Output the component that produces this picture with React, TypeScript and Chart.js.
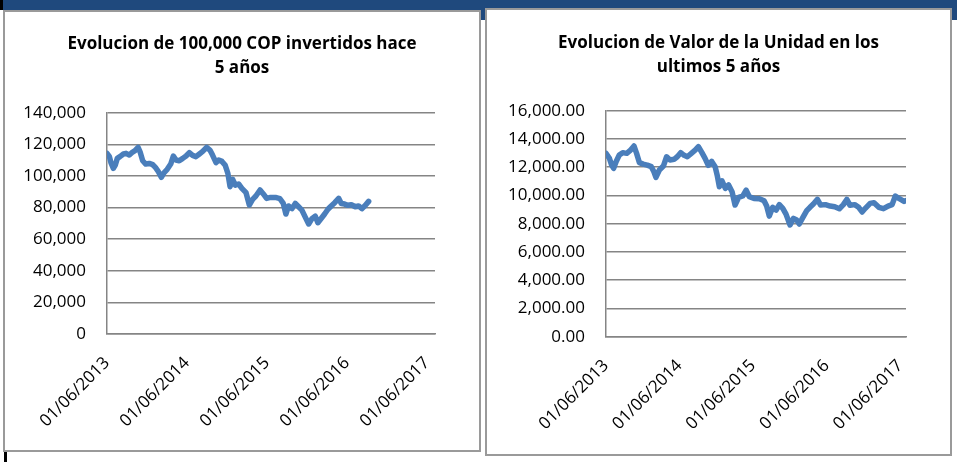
import React, { useEffect, useRef } from 'react';
import { Chart, registerables } from 'chart.js';

Chart.register(...registerables);

// X axis: days since 01/06/2013
const xTickLabels = ['01/06/2013', '01/06/2014', '01/06/2015', '01/06/2016', '01/06/2017'];
const xTickDays = [0, 365, 730, 1096, 1461];

// Left chart: evolution of 100,000 COP invested
const investDays = [0, 11, 18, 29, 38, 47, 59, 75, 87, 102, 117, 128, 142, 151, 163, 177, 193, 209, 221, 233, 248, 260, 275, 291, 303, 315, 330, 346, 361, 376, 391, 406, 422, 437, 455, 470, 482, 498, 510, 525, 540, 552, 562, 574, 586, 601, 616, 635, 650, 665, 680, 699, 714, 729, 747, 769, 790, 805, 817, 829, 845, 860, 875, 890, 906, 921, 936, 951, 963, 979, 994, 1009, 1024, 1040, 1058, 1070, 1085, 1100, 1116, 1134, 1149, 1164, 1180, 1195];
const investValues = [114300, 112200, 108400, 104800, 106900, 111100, 112200, 113900, 114300, 113200, 115100, 116000, 118100, 115300, 109600, 107500, 107900, 107100, 105400, 103100, 99100, 102000, 104200, 107500, 112600, 110100, 109600, 111100, 112600, 114700, 113000, 112200, 113900, 115500, 118100, 116400, 113200, 108400, 110100, 109200, 106700, 101600, 93200, 97800, 94200, 94900, 92100, 89400, 81600, 85200, 87300, 91100, 88600, 85800, 86400, 86400, 85600, 82600, 75900, 81000, 79300, 82600, 80500, 78400, 73800, 69600, 73000, 74600, 70400, 73200, 75900, 78900, 81000, 83100, 85800, 82600, 82200, 81400, 81800, 80500, 81000, 79300, 81400, 83900];

// Right chart: unit value
const unitDays = [0, 17, 28, 38, 50, 66, 83, 103, 119, 139, 152, 166, 185, 205, 225, 238, 248, 265, 285, 301, 318, 338, 354, 371, 388, 404, 424, 444, 459, 475, 492, 508, 525, 542, 553, 563, 576, 593, 609, 626, 641, 659, 679, 696, 712, 735, 762, 785, 798, 811, 828, 845, 861, 878, 894, 914, 931, 947, 960, 980, 997, 1013, 1030, 1050, 1066, 1090, 1113, 1136, 1159, 1179, 1196, 1212, 1235, 1255, 1272, 1288, 1312, 1331, 1355, 1378, 1401, 1421, 1437, 1457, 1480, 1490];
const unitValues = [12980, 12630, 12150, 11920, 12390, 12860, 13030, 12980, 13170, 13500, 12980, 12320, 12220, 12150, 12040, 11680, 11280, 11800, 12080, 12740, 12510, 12560, 12740, 13030, 12840, 12740, 12980, 13220, 13450, 13070, 12630, 12130, 12410, 12040, 11380, 10620, 11040, 10500, 10740, 10270, 9320, 9860, 9960, 10380, 9910, 9790, 9770, 9630, 9250, 8540, 9160, 8970, 9350, 9090, 8680, 7910, 8380, 8260, 7980, 8500, 8920, 9160, 9390, 9720, 9320, 9350, 9250, 9200, 9060, 9350, 9720, 9300, 9350, 9160, 8830, 9090, 9440, 9490, 9160, 9060, 9250, 9350, 9960, 9770, 9580, 9630];

const leftTitle = ['Evolucion de 100,000 COP invertidos hace', '5 años'];
const rightTitle = ['Evolucion de Valor de la Unidad en los', 'ultimos 5 años'];

const GRID = '#858585';
const LINE = '#4a7ebb';
const FONT = "'Open Sans', 'Noto Sans', sans-serif";

type Props = {
  days: number[];
  values: number[];
  title: string[];
  yMax: number;
  yStep: number;
  decimals: number;
  xMax: number;
  width: number;
  height: number;
  yAxisWidth: number;
  rightSpace: number;
  xAxisHeight: number;
  titleTop: number;
  titleBottom: number;
};

function LineChart(p: Props) {
  const ref = useRef<HTMLCanvasElement | null>(null);
  useEffect(() => {
    if (!ref.current) return;
    const chart = new Chart(ref.current, {
      type: 'line',
      data: {
        datasets: [
          {
            data: p.days.map((d, i) => ({ x: d, y: p.values[i] })),
            borderColor: LINE,
            backgroundColor: LINE,
            borderWidth: 5.5,
            pointRadius: 0,
            tension: 0,
            borderJoinStyle: 'round',
            borderCapStyle: 'round',
          },
        ],
      },
      options: {
        animation: false,
        responsive: false,
        devicePixelRatio: 1,
        layout: { padding: 0 },
        plugins: {
          legend: { display: false },
          tooltip: { enabled: false },
          title: {
            display: true,
            text: p.title,
            color: '#000',
            font: { family: FONT, size: 17, weight: 'bold', lineHeight: 24 / 17 },
            padding: { top: p.titleTop, bottom: p.titleBottom },
          },
        },
        scales: {
          x: {
            type: 'linear',
            min: 0,
            max: p.xMax,
            grid: { display: false, drawTicks: false },
            border: { display: true, color: GRID, width: 1.5 },
            afterBuildTicks: (scale: any) => {
              scale.ticks = xTickDays.map((v) => ({ value: v }));
            },
            afterFit: (scale: any) => {
              scale.height = p.xAxisHeight;
            },
            ticks: {
              autoSkip: false,
              minRotation: 45,
              maxRotation: 45,
              padding: 19,
              color: '#000',
              font: { family: FONT, size: 17 },
              callback: (_v: any, i: number) => xTickLabels[i],
            },
          },
          y: {
            type: 'linear',
            position: 'left',
            min: 0,
            max: p.yMax,
            grid: { color: GRID, lineWidth: 1.5, drawTicks: false },
            border: { display: true, color: GRID, width: 1.5 },
            afterFit: (scale: any) => {
              scale.width = p.yAxisWidth;
            },
            ticks: {
              stepSize: p.yStep,
              padding: 21,
              color: '#000',
              font: { family: FONT, size: 17 },
              callback: (v: any) =>
                Number(v).toLocaleString('en-US', {
                  minimumFractionDigits: p.decimals,
                  maximumFractionDigits: p.decimals,
                }),
            },
          },
          spacer: {
            type: 'linear',
            position: 'right',
            display: true,
            grid: { display: false, drawTicks: false },
            border: { display: false },
            ticks: { display: false },
            afterFit: (scale: any) => {
              scale.width = p.rightSpace;
            },
          },
        },
      },
    } as any);
    return () => chart.destroy();
  }, []);
  return <canvas ref={ref} width={p.width} height={p.height} style={{ display: 'block', width: p.width, height: p.height }} />;
}

const abs = (l: number, t: number, w: number, h: number, extra: any = {}) => ({
  position: 'absolute' as const,
  left: l,
  top: t,
  width: w,
  height: h,
  boxSizing: 'border-box' as const,
  ...extra,
});

export default function App() {
  const blue = '#1f497d';
  return (
    <div style={abs(0, 0, 957, 462, { background: '#fff', overflow: 'hidden' })}>
      <div style={abs(3, 0, 954, 10, { background: blue })} />
      <div style={abs(481, 0, 4, 20, { background: blue })} />
      <div style={abs(952, 0, 5, 20, { background: blue })} />
      <div style={abs(0, 0, 3, 10, { background: '#000' })} />
      <div style={abs(4, 452, 3, 10, { background: '#000' })} />
      <div style={abs(3, 10, 478, 442, { border: '2px solid #9a9a9a', background: '#fff' })}>
        <LineChart
          days={investDays}
          values={investValues}
          title={leftTitle}
          yMax={140000}
          yStep={20000}
          decimals={0}
          xMax={1498}
          width={474}
          height={438}
          yAxisWidth={102}
          rightSpace={44}
          xAxisHeight={116}
          titleTop={20}
          titleBottom={32.7}
        />
      </div>
      <div style={abs(485, 8, 467, 448, { border: '2px solid #9a9a9a', background: '#fff' })}>
        <LineChart
          days={unitDays}
          values={unitValues}
          title={rightTitle}
          yMax={16000}
          yStep={2000}
          decimals={2}
          xMax={1490}
          width={463}
          height={444}
          yAxisWidth={119}
          rightSpace={44}
          xAxisHeight={117.3}
          titleTop={21}
          titleBottom={31.7}
        />
      </div>
    </div>
  );
}
